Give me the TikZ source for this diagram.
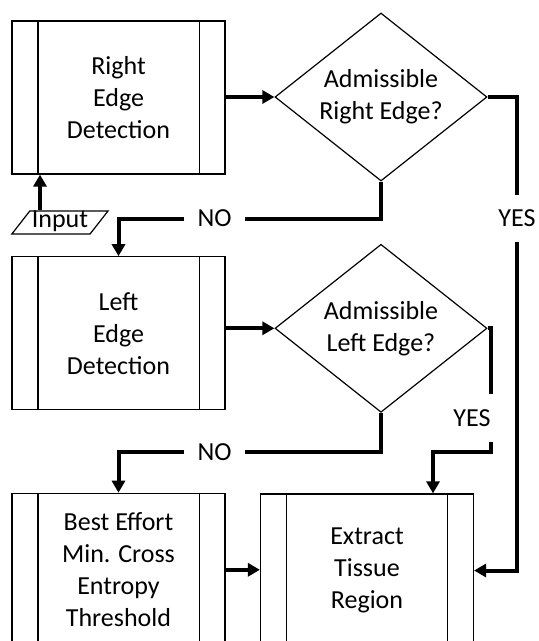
\documentclass[tikz,border=0pt]{standalone}
\usepackage{fontspec}
\setmainfont{Carlito}
\usepackage{tikz}
\usetikzlibrary{shapes.geometric, arrows.meta}

\begin{document}
\begin{tikzpicture}[x=1pt, y=-1pt,
  every node/.style={font=\fontsize{26}{32}\selectfont},
  process/.style={draw, line width=1.2pt, minimum width=213pt, minimum height=153pt, inner sep=0pt, align=center},
  decision/.style={draw, diamond, aspect=1.26, line width=1.2pt, minimum width=212pt, minimum height=168pt, inner sep=0pt, align=center},
  lbl/.style={inner xsep=13pt, inner ysep=15.5pt, text height=16pt, text depth=0pt},
  line/.style={line width=4pt},
  flow/.style={line width=4pt, -{Triangle[length=12pt, width=13pt]}}]
%% frame
\useasboundingbox (0,0) rectangle (539,641);
\clip (0,0) rectangle (539,641);
%% nodes
\node[process] (rdet) at (118.5,97.5) {Right\\Edge\\Detection};
\node[decision] (radm) at (381,97) {Admissible\\Right Edge?};
\node[draw, trapezium, trapezium left angle=52, trapezium right angle=128, line width=1.2pt,
  inner xsep=2pt, inner ysep=0pt, text height=17pt, text depth=6pt] (inp) at (60,222.4) {Input};
\node[lbl] (no1) at (214.5,218.5) {NO};
\node[lbl] (yes1) at (517,218.5) {YES};
\node[process] (ldet) at (118.5,333.3) {Left\\Edge\\Detection};
\node[decision] (ladm) at (381,328.3) {Admissible\\Left Edge?};
\node[lbl, inner xsep=0pt] (yes2) at (472,418) {YES};
\node[lbl] (no2) at (214.5,452) {NO};
\node[process] (best) at (118.5,569.8) {Best Effort\\Min. Cross\\Entropy\\Threshold};
\node[process] (extr) at (367,570.5) {Extract\\Tissue\\Region};
%% inner bars
\foreach \n in {rdet,ldet,best,extr} {
  \draw[line width=1.2pt] ([xshift=26.5pt]\n.north west) -- ([xshift=26.5pt]\n.south west);
  \draw[line width=1.2pt] ([xshift=-26.5pt]\n.north east) -- ([xshift=-26.5pt]\n.south east);
}
%% connectors
\coordinate (inptop) at ([xshift=-20pt]inp.north);
\coordinate (extrin) at ([xshift=66pt]extr.north);
\draw[flow] (inptop) -- (inptop |- rdet.south);
\draw[flow] (rdet.east |- radm.west) -- (radm.west);
\draw[line] (radm.south) |- (no1.east);
\draw[flow] (no1.west) -| (ldet.north);
\draw[line] (radm.east) -| (yes1.north);
\draw[flow] (yes1.south) |- (extr.east);
\draw[flow] (ldet.east |- ladm.west) -- (ladm.west);
\draw[line] (ladm.south) |- (no2.east);
\draw[flow] (no2.west) -| (best.north);
\draw[line] (ladm.east) -| (yes2.north east);
\draw[flow] (yes2.south east) |- (extrin |- no2) -- (extrin);
\draw[flow] (best.east) -- (best.east -| extr.west);
\end{tikzpicture}
\end{document}
